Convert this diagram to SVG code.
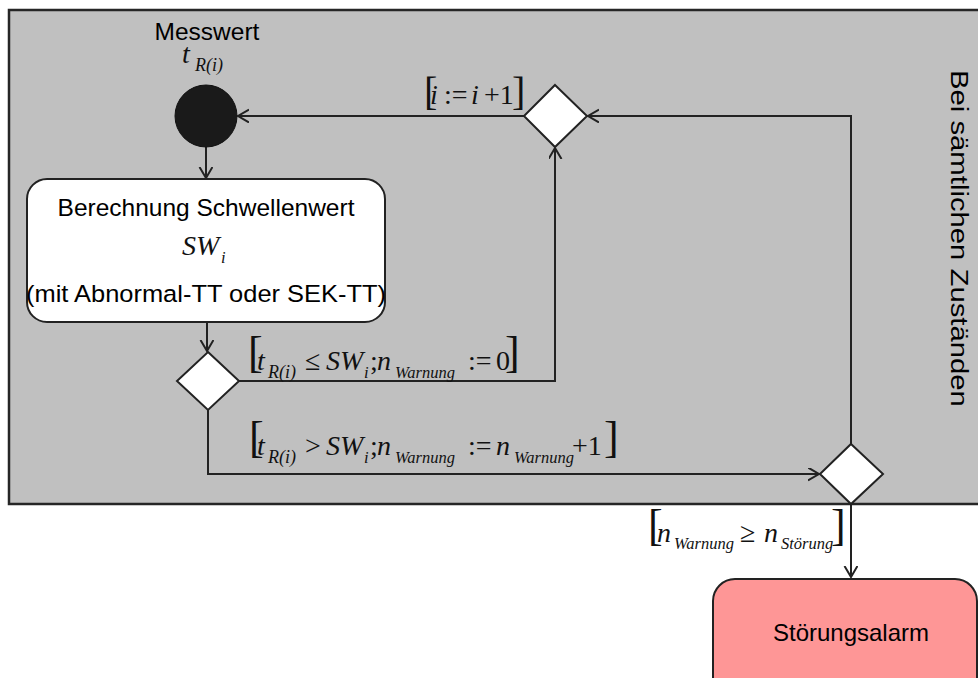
<svg xmlns="http://www.w3.org/2000/svg" width="978" height="678" viewBox="0 0 978 678">
  <style>
    .sans { font-family: "Liberation Sans", Arial, sans-serif; font-size: 24.5px; fill: #000; }
    .math { font-family: "Liberation Serif", "Times New Roman", serif; font-size: 28px; fill: #111; }
    .mi { font-style: italic; }
    .sub { font-style: italic; font-size: 16.5px; }
    .br { font-size: 44px; }
    .edge { fill: none; stroke: #222; stroke-width: 2; }
    .dec { fill: #fff; stroke: #222; stroke-width: 2; stroke-linejoin: miter; }
  </style>
  <defs>
    <marker id="arrow" markerUnits="userSpaceOnUse" markerWidth="14" markerHeight="16" refX="11" refY="6.5" orient="auto">
      <path d="M0,0 L11,6.5 L0,13" fill="none" stroke="#222" stroke-width="2"/>
    </marker>
  </defs>

  <!-- swimlane background -->
  <g id="lane">
    <rect x="9" y="10" width="992" height="494" fill="#c0c0c0" stroke="#262626" stroke-width="2.5"/>
    <text class="sans" transform="translate(951,70) rotate(90) scale(1.22,1)" style="font-size:24px">Bei sämtlichen Zuständen</text>
  </g>

  <!-- connectors -->
  <g id="connectors">
    <path class="edge" d="M206,147 V178" marker-end="url(#arrow)"/>
    <path class="edge" d="M207,322 V351" marker-end="url(#arrow)"/>
    <path class="edge" d="M239,381 H555 V148" marker-end="url(#arrow)"/>
    <path class="edge" d="M524,116 H238" marker-end="url(#arrow)"/>
    <path class="edge" d="M208,410 V474 H819" marker-end="url(#arrow)"/>
    <path class="edge" d="M851,444 V116 H588" marker-end="url(#arrow)"/>
    <path class="edge" d="M851,504 V577" marker-end="url(#arrow)"/>
  </g>

  <!-- initial node -->
  <g id="start">
    <text class="sans" x="207" y="40" text-anchor="middle">Messwert</text>
    <text class="math"><tspan class="mi" x="182" y="63">t</tspan><tspan class="sub" x="195" y="71" style="font-size:18px">R(i)</tspan></text>
    <circle cx="206" cy="116" r="31" fill="#1a1a1a" stroke="#111" stroke-width="1"/>
  </g>

  <!-- threshold calculation -->
  <g id="calc">
    <rect x="27" y="179" width="358" height="143" rx="20" ry="20" fill="#fff" stroke="#222" stroke-width="2"/>
    <text class="sans" x="206" y="216" text-anchor="middle">Berechnung Schwellenwert</text>
    <text class="math"><tspan class="mi" x="182" y="255">SW</tspan><tspan class="sub" x="221" y="263">i</tspan></text>
    <text class="sans" x="206" y="302" text-anchor="middle" textLength="360" lengthAdjust="spacingAndGlyphs">(mit Abnormal-TT oder SEK-TT)</text>
  </g>

  <!-- decision: compare with threshold -->
  <g id="decision1">
    <polygon class="dec" points="208,352 239,381 208,410 177,381"/>
  </g>

  <!-- decision: next index -->
  <g id="decision2">
    <polygon class="dec" points="555,85 587,116 555,147 524,116"/>
  </g>

  <!-- decision: warning counter -->
  <g id="decision3">
    <polygon class="dec" points="851,444 883,474 851,504 820,474"/>
  </g>

  <!-- alarm -->
  <g id="alarm">
    <rect x="713" y="579" width="264" height="140" rx="22" ry="22" fill="#fe9696" stroke="#222" stroke-width="2"/>
    <text class="sans" x="851" y="641" text-anchor="middle" style="font-size:24px">Störungsalarm</text>
  </g>

  <!-- guard labels -->
  <g id="guard-next">
    <text class="math"><tspan class="br" x="424" y="105" style="font-size:40px">[</tspan><tspan class="mi" x="430" y="104">i</tspan><tspan x="444" y="104">:=</tspan><tspan class="mi" x="471" y="104">i</tspan><tspan x="484" y="104">+1</tspan><tspan class="br" x="512" y="105" style="font-size:40px">]</tspan></text>
  </g>

  <g id="guard-below">
    <text class="math"><tspan class="br" x="248" y="367">[</tspan><tspan class="mi" x="257" y="370">t</tspan><tspan class="sub" x="268" y="378" style="font-size:18px">R(i)</tspan><tspan x="305" y="370">≤</tspan><tspan class="mi" x="326" y="370">SW</tspan><tspan class="sub" x="364" y="378">i</tspan><tspan x="370" y="370">;</tspan><tspan class="mi" x="377" y="370">n</tspan><tspan class="sub" x="395" y="378">Warnung</tspan><tspan x="468" y="370">:=</tspan><tspan x="496" y="370">0</tspan><tspan class="br" x="505" y="367">]</tspan></text>
  </g>

  <g id="guard-above">
    <text class="math"><tspan class="br" x="249" y="452">[</tspan><tspan class="mi" x="257" y="455">t</tspan><tspan class="sub" x="268" y="463" style="font-size:18px">R(i)</tspan><tspan x="305" y="455">&gt;</tspan><tspan class="mi" x="326" y="455">SW</tspan><tspan class="sub" x="364" y="463">i</tspan><tspan x="370" y="455">;</tspan><tspan class="mi" x="377" y="455">n</tspan><tspan class="sub" x="395" y="463">Warnung</tspan><tspan x="468" y="455">:=</tspan><tspan class="mi" x="496" y="455">n</tspan><tspan class="sub" x="514" y="463">Warnung</tspan><tspan x="572" y="455">+1</tspan><tspan class="br" x="604" y="452">]</tspan></text>
  </g>

  <g id="guard-alarm">
    <text class="math"><tspan class="br" x="648" y="540">[</tspan><tspan class="mi" x="657" y="542">n</tspan><tspan class="sub" x="674" y="549">Warnung</tspan><tspan x="740" y="542">≥</tspan><tspan class="mi" x="764" y="542">n</tspan><tspan class="sub" x="781" y="549">Störung</tspan><tspan class="br" x="831" y="540">]</tspan></text>
  </g>
</svg>
